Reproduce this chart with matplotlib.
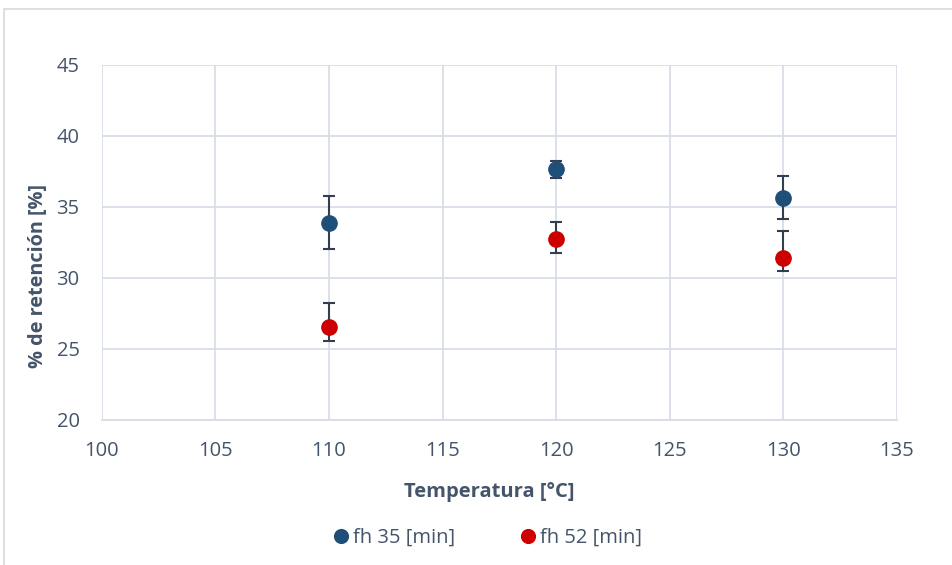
import matplotlib
matplotlib.use("Agg")
import matplotlib.pyplot as plt
from matplotlib.patches import Rectangle

plt.rcParams['font.family'] = ['Open Sans', 'DejaVu Sans']

temps = [110, 120, 130]
fh35 = [33.9, 37.65, 35.66]
fh35_lo = [1.9, 0.6, 1.5]
fh35_hi = [1.9, 0.6, 1.5]
fh52 = [26.53, 32.72, 31.43]
fh52_lo = [1.0, 1.0, 0.95]
fh52_hi = [1.7, 1.2, 1.9]

txt = '#44546A'
gridc = '#D6DCE5'

fig = plt.figure(figsize=(9.52, 5.65), dpi=100)
ax = fig.add_axes([0.107, 0.257, 0.835, 0.628])

# chart border
fig.patches.append(Rectangle((4/952, -0.05), 1.05, 1 - 9/565 + 0.05, transform=fig.transFigure,
                             fill=False, edgecolor='#D9D9D9', linewidth=1.2))

errc = '#333F50'
ax.errorbar(temps, fh35, yerr=[fh35_lo, fh35_hi], fmt='o', color='#1F4E79', ecolor=errc,
            elinewidth=1.5, capsize=4.5, capthick=1.5, markersize=11, label='fh 35 [min]', zorder=3)
ax.errorbar(temps, fh52, yerr=[fh52_lo, fh52_hi], fmt='o', color='#CC0000', ecolor=errc,
            elinewidth=1.5, capsize=4.5, capthick=1.5, markersize=11, label='fh 52 [min]', zorder=3)

ax.set_xlim(100, 135)
ax.set_ylim(20, 45)
ax.set_xticks(range(100, 136, 5))
ax.set_yticks(range(20, 46, 5))
ax.grid(True, color=gridc, linewidth=1.2)
ax.set_axisbelow(True)
for s in ['top', 'right', 'left']:
    ax.spines[s].set_visible(False)
ax.spines['bottom'].set_color(gridc)
ax.spines['bottom'].set_linewidth(1.2)
ax.tick_params(length=0, labelsize=14.5, colors=txt)
ax.tick_params(axis='x', pad=15)
ax.tick_params(axis='y', pad=16)

ax.set_xlabel('Temperatura [°C]', fontsize=14.5, fontweight='bold', color=txt, va='center')
ax.xaxis.set_label_coords(0.487, -0.203)
ax.set_ylabel('% de retención [%]', fontsize=14.3, fontweight='bold', color=txt,
              va='center', ha='center')
ax.yaxis.set_label_coords(-0.0805, 0.406)

handles, labels = ax.get_legend_handles_labels()
handles = [h[0] for h in handles]
fig.legend(handles, labels, loc='center', bbox_to_anchor=(0.51, 0.048), ncol=2, frameon=False,
           fontsize=14.5, labelcolor=txt, handletextpad=0.0, columnspacing=3.0,
           markerscale=0.9, handlelength=1.2)

fig.savefig('out.png', dpi=100)
